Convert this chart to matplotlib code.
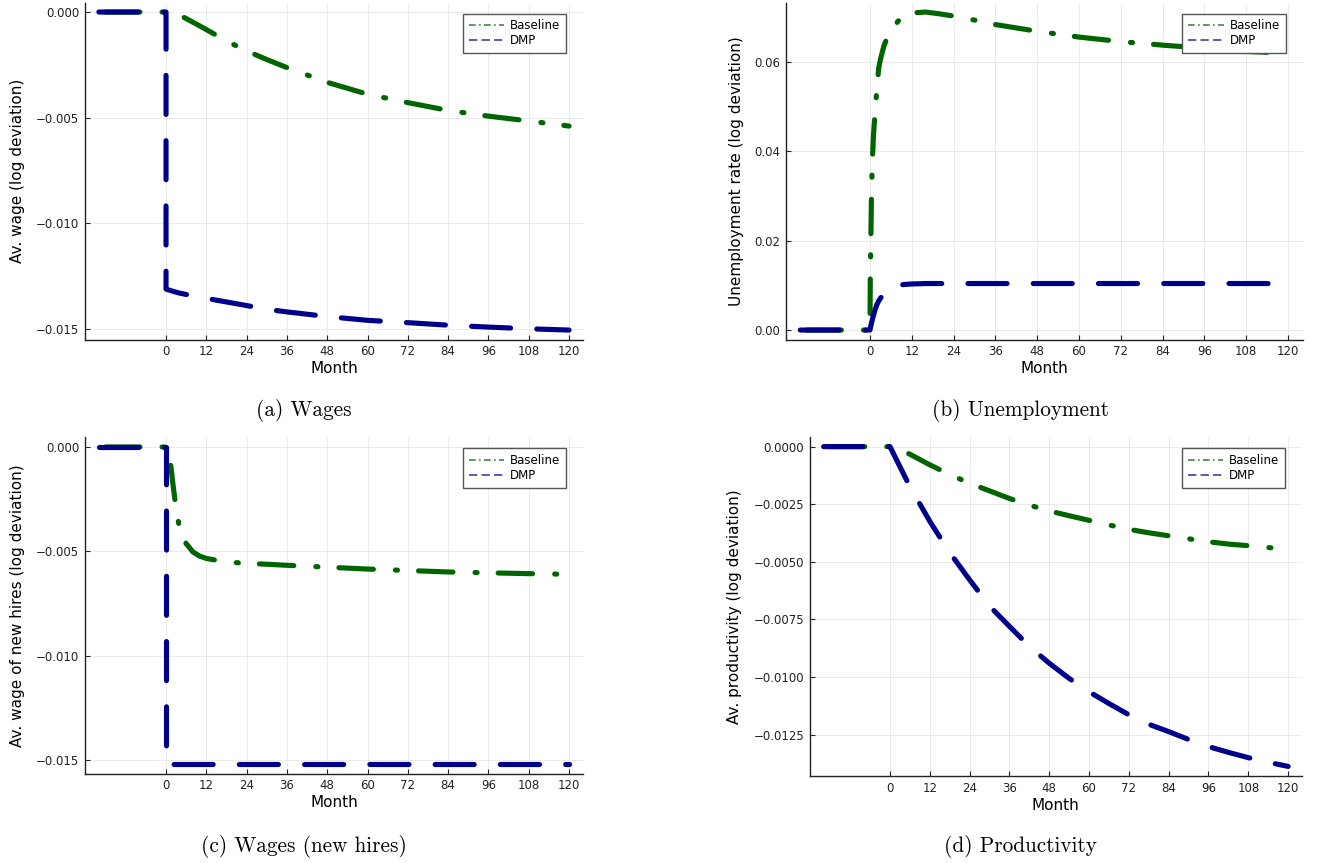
import matplotlib
matplotlib.use("Agg")
import matplotlib.pyplot as plt
from matplotlib.lines import Line2D
from matplotlib.ticker import FuncFormatter

# (a) average wage
a_months = [-20, 0, 0, 2, 4, 8, 12, 18, 24, 30, 36, 48, 60, 72, 84, 96, 108, 120]
a_base = [0, 0, 0, -0.00005, -0.00014, -0.00048, -0.00083, -0.00137, -0.00184, -0.00225,
          -0.00263, -0.00333, -0.00389, -0.00429, -0.00466, -0.00493, -0.00516, -0.0054]
a_dmp = [0, 0, -0.01312, -0.01322, -0.01331, -0.01344, -0.01356, -0.01373, -0.0139, -0.01408,
         -0.0142, -0.01442, -0.0146, -0.01471, -0.01483, -0.01492, -0.015, -0.01506]

# (b) unemployment rate
b_months = [-20, 0, 0.1, 0.25, 0.45, 0.7, 1, 1.5, 2, 2.5, 3, 4, 5, 6.5, 8, 10, 12, 16, 20,
            24, 30, 36, 48, 60, 72, 84, 96, 108, 120]
b_base = [0, 0, 0.012, 0.020, 0.031, 0.038, 0.0435, 0.049, 0.054, 0.0585, 0.0605, 0.0635,
          0.0655, 0.0673, 0.069, 0.0704, 0.0709, 0.0711, 0.0707, 0.0702, 0.0693, 0.0683,
          0.0668, 0.0655, 0.0645, 0.0637, 0.063, 0.0623, 0.0619]
b_dmp = [0, 0, 0.0004, 0.0009, 0.0016, 0.0024, 0.0033, 0.0046, 0.0057, 0.0065, 0.0071, 0.0081,
         0.0089, 0.0096, 0.0100, 0.0102, 0.0103, 0.0104, 0.0104, 0.0104, 0.0104, 0.0104,
         0.0104, 0.0104, 0.0104, 0.0104, 0.0104, 0.0104, 0.0104]

# (c) wage of new hires
c_months = [-20, 0, 0, 1, 1.5, 2, 2.7, 3.8, 5, 6, 8, 10, 12, 16, 22, 30, 36, 48, 60, 72, 84,
            96, 108, 120]
c_base = [0, 0, 0, -0.0004, -0.001, -0.0017, -0.0026, -0.0037, -0.0043, -0.00463, -0.00503,
          -0.00523, -0.00534, -0.00546, -0.00556, -0.00562, -0.00567, -0.00576, -0.00585,
          -0.00592, -0.00599, -0.00603, -0.00607, -0.0061]
c_dmp = [0, 0, -0.0152, -0.0152, -0.0152, -0.0152, -0.0152, -0.0152, -0.0152, -0.0152,
         -0.0152, -0.0152, -0.0152, -0.0152, -0.0152, -0.0152, -0.0152, -0.0152, -0.0152,
         -0.0152, -0.0152, -0.0152, -0.0152, -0.0152]

# (d) productivity
d_months = [-20, 0, 4, 6, 12, 18, 24, 30, 36, 42, 48, 54, 60, 66, 72, 78, 84, 90, 96, 102,
            108, 114, 120]
d_base = [0, 0, -0.0002, -0.00033, -0.00079, -0.00121, -0.00159, -0.00192, -0.00225, -0.00254,
          -0.00279, -0.0030, -0.0032, -0.0034, -0.00359, -0.00374, -0.00387, -0.004, -0.00413,
          -0.00423, -0.0043, -0.00438, -0.00446]
d_dmp = [0, 0, -0.00116, -0.00174, -0.00324, -0.0046, -0.00578, -0.00692, -0.0078, -0.00867,
         -0.0094, -0.01006, -0.01064, -0.01115, -0.01164, -0.01205, -0.01237, -0.01271,
         -0.01302, -0.01327, -0.0135, -0.0137, -0.01388]

xticks = list(range(0, 121, 12))

panels = [
    dict(x=a_months, base=a_base, dmp=a_dmp, ylabel="Av. wage (log deviation)",
         yticks=[0, -0.005, -0.010, -0.015], fmt="{:.3f}", caption="(a) Wages",
         rect=[0.0642, 0.6065, 0.3776, 0.3906], ylab_x=-0.134, cap=(304, 410)),
    dict(x=b_months, base=b_base, dmp=b_dmp, ylabel="Unemployment rate (log deviation)",
         yticks=[0, 0.02, 0.04, 0.06], fmt="{:.2f}", caption="(b) Unemployment",
         rect=[0.5952, 0.6065, 0.3916, 0.3906], ylab_x=-0.096, cap=(1020, 410)),
    dict(x=c_months, base=c_base, dmp=c_dmp, ylabel="Av. wage of new hires (log deviation)",
         yticks=[0, -0.005, -0.010, -0.015], fmt="{:.3f}", caption="(c) Wages (new hires)",
         rect=[0.0642, 0.1035, 0.3776, 0.3896], ylab_x=-0.134, cap=(304, 846)),
    dict(x=d_months, base=d_base, dmp=d_dmp, ylabel="Av. productivity (log deviation)",
         yticks=[0, -0.0025, -0.0050, -0.0075, -0.0100, -0.0125], fmt="{:.4f}",
         caption="(d) Productivity", rect=[0.6134, 0.1008, 0.3730, 0.3928], ylab_x=-0.152,
         cap=(1020, 846)),
]

green = "#006400"
blue = "#00008b"
lw = 3.7

fig = plt.figure(figsize=(13.2, 8.63), dpi=100)

for p in panels:
    ax = fig.add_axes(p["rect"])
    ax.plot(p["x"], p["base"], color=green, lw=lw, dash_capstyle="round",
            solid_capstyle="round", linestyle=(14.2, (6.7, 4.3, 0.4, 4.1)))
    ax.plot(p["x"], p["dmp"], color=blue, lw=lw, dash_capstyle="round",
            solid_capstyle="round", linestyle=(0, (7.6, 5.1)))
    ax.margins(x=0.03, y=0.03)

    ax.set_xticks(xticks)
    ax.set_yticks(p["yticks"])
    f = p["fmt"]
    ax.yaxis.set_major_formatter(FuncFormatter(lambda v, pos, f=f: f.format(v).replace("-", "\u2212")))
    ax.grid(True, color="#e8e8e8", lw=0.6)
    ax.set_axisbelow(True)
    for s in ["top", "right"]:
        ax.spines[s].set_visible(False)
    for s in ["left", "bottom"]:
        ax.spines[s].set_color("#222222")
        ax.spines[s].set_linewidth(1.0)
    ax.tick_params(direction="in", length=3.5, width=0.8, labelsize=8.5, colors="#222222",
                   pad=4)

    ax.set_xlabel("Month", fontsize=11)
    ax.xaxis.set_label_coords(0.5, -0.087)
    ax.xaxis.label.set_va("center")
    ax.set_ylabel(p["ylabel"], fontsize=11)
    ax.yaxis.set_label_coords(p["ylab_x"], 0.5)
    ax.yaxis.label.set_va("center")

    # thin legend samples, like the original
    handles = [
        Line2D([], [], color=green, lw=1.2, alpha=0.75, linestyle=(0, (4, 2, 1, 2))),
        Line2D([], [], color=blue, lw=1.2, alpha=0.75, linestyle=(0, (5, 2.5))),
    ]
    w = p["rect"][2] * 1320
    h = p["rect"][3] * 863
    leg = ax.legend(handles, ["Baseline", "DMP"], loc="upper right",
                    bbox_to_anchor=(1 - 17 / w, 1 - 11 / h), borderaxespad=0,
                    fontsize=8.5, fancybox=False, framealpha=1, edgecolor="#555555",
                    handlelength=3.0, labelspacing=0.15, borderpad=0.5, handletextpad=0.5)
    leg.get_frame().set_linewidth(1.0)

    # caption below each panel
    fig.text(p["cap"][0] / 1320, 1 - p["cap"][1] / 863, p["caption"], family="cmr10",
             fontsize=15.3, ha="center", va="center")

fig.savefig("out.png", dpi=100)
